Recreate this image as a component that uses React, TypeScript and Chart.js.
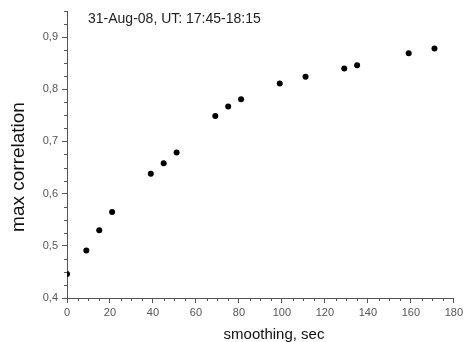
import React, { useEffect, useRef } from "react";
import { Chart, registerables } from "chart.js";

Chart.register(...registerables);

const smoothing = [0, 9, 15, 21, 39, 45, 51, 69, 75, 81, 99, 111, 129, 135, 159, 171];
const maxCorrelation = [0.446, 0.491, 0.530, 0.565, 0.638, 0.658, 0.679, 0.749, 0.767, 0.781, 0.811, 0.824, 0.840, 0.846, 0.869, 0.878];
const xTickValues = [0, 20, 40, 60, 80, 100, 120, 140, 160, 180];
const yTickValues = [0.4, 0.5, 0.6, 0.7, 0.8, 0.9];
const chartTitle = "31-Aug-08, UT: 17:45-18:15";
const xTitle = "smoothing, sec";
const yTitle = "max correlation";

const FONT = "'Liberation Sans', Arial, sans-serif";
const AXIS_COLOR = "#555";

const decorPlugin = {
  id: "decor",
  afterDraw(chart: any) {
    const ctx = chart.ctx;
    const xs = chart.scales.x;
    const ys = chart.scales.y;
    const area = chart.chartArea;
    ctx.save();
    ctx.strokeStyle = AXIS_COLOR;
    ctx.lineWidth = 1;
    // minor ticks x
    for (let v = xs.min; v <= xs.max + 1e-9; v += 5) {
      if (Math.abs(v % 20) < 1e-9) continue;
      const px = Math.round(xs.getPixelForValue(v)) + 0.5;
      ctx.beginPath();
      ctx.moveTo(px, area.bottom);
      ctx.lineTo(px, area.bottom + 3);
      ctx.stroke();
    }
    // minor ticks y
    for (let i = 0; i <= 22; i++) {
      const v = 0.4 + i * 0.025;
      if (i % 4 === 0) continue;
      const py = Math.round(ys.getPixelForValue(v)) + 0.5;
      ctx.beginPath();
      ctx.moveTo(area.left, py);
      ctx.lineTo(area.left - 3, py);
      ctx.stroke();
    }
    // chart title inside the plot
    ctx.fillStyle = "#222";
    ctx.font = `14px ${FONT}`;
    ctx.textAlign = "left";
    ctx.textBaseline = "middle";
    ctx.fillText(chartTitle, 88, 19);
    // x title
    ctx.fillStyle = "#111";
    ctx.font = `15px ${FONT}`;
    ctx.textAlign = "center";
    ctx.textBaseline = "middle";
    ctx.fillText(xTitle, 274, 335);
    // y title
    ctx.save();
    ctx.translate(19, 167);
    ctx.rotate(-Math.PI / 2);
    ctx.font = `19px ${FONT}`;
    ctx.fillText(yTitle, 0, 0);
    ctx.restore();
    ctx.restore();
  },
};

export default function App() {
  const ref = useRef<HTMLCanvasElement | null>(null);
  useEffect(() => {
    if (!ref.current) return;
    const chart = new Chart(ref.current, {
      type: "scatter",
      data: {
        datasets: [
          {
            data: smoothing.map((x, i) => ({ x, y: maxCorrelation[i] })),
            backgroundColor: "#000",
            borderColor: "#000",
            pointRadius: 3,
            pointHoverRadius: 3,
            borderWidth: 0,
            clip: 0,
          } as any,
        ],
      },
      options: {
        animation: false,
        responsive: false,
        events: [],
        layout: { padding: { left: 0, right: 10, top: 11, bottom: 0 } },
        plugins: { legend: { display: false }, tooltip: { enabled: false }, title: { display: false } },
        scales: {
          x: {
            type: "linear",
            min: 0,
            max: 180,
            afterBuildTicks: (s: any) => {
              s.ticks = xTickValues.map((value) => ({ value }));
            },
            afterFit: (s: any) => {
              s.height = 44;
            },
            ticks: {
              color: AXIS_COLOR,
              font: { family: FONT, size: 11 },
              padding: 3,
              maxRotation: 0,
              autoSkip: false,
            },
            grid: { drawOnChartArea: false, tickLength: 5, color: AXIS_COLOR },
            border: { display: true, color: AXIS_COLOR, width: 1 },
          },
          y: {
            type: "linear",
            min: 0.4,
            max: 0.95,
            afterBuildTicks: (s: any) => {
              s.ticks = yTickValues.map((value) => ({ value }));
            },
            afterFit: (s: any) => {
              s.width = 67;
            },
            ticks: {
              color: AXIS_COLOR,
              font: { family: FONT, size: 11 },
              padding: 4,
              callback: (v: any) => Number(v).toFixed(1).replace(".", ","),
            },
            grid: { drawOnChartArea: false, tickLength: 5, color: AXIS_COLOR },
            border: { display: true, color: AXIS_COLOR, width: 1 },
          },
        },
      },
      plugins: [decorPlugin],
    });
    return () => chart.destroy();
  }, []);
  return (
    <div style={{ position: "fixed", left: 0, top: 0, width: 466, height: 342, background: "#fff" }}>
      <canvas ref={ref} width={466} height={342} style={{ display: "block" }} />
    </div>
  );
}
